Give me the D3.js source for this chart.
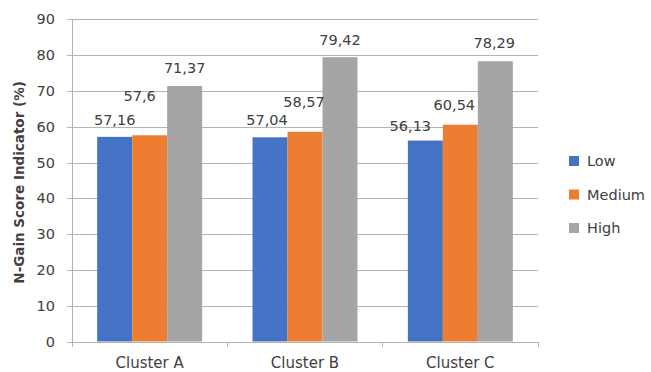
<!DOCTYPE html>
<meta charset='utf-8'>
<style>
body { margin: 0; background: #fff; }
text { font-family: 'DejaVu Sans', sans-serif; fill: #404040; }
.grid line { stroke: #b4b4b4; shape-rendering: crispEdges; }
.grid path { display: none; }
</style>
<svg width='651' height='372'></svg>
<script src='https://cdnjs.cloudflare.com/ajax/libs/d3/7.8.5/d3.min.js'></script>
<script>

// chart data
var clusters = ['Cluster A', 'Cluster B', 'Cluster C'],
    seriesNames = ['Low', 'Medium', 'High'],
    low = [57.16, 57.04, 56.13],
    medium = [57.6, 58.57, 60.54],
    high = [71.37, 79.42, 78.29],
    yTicks = [0, 10, 20, 30, 40, 50, 60, 70, 80, 90];

var colors = ['#4472C4', '#ED7D31', '#A5A5A5'];

// labels were dragged around by hand in the original, nudge them the same way
var labelNudge = [
    [[0, 0], [-10, -22], [0, -1]],
    [[-3, 0], [-1, -13], [0, 0]],
    [[-15, 2], [-6, -3], [-1, -1]]
];

var svg = d3.select('svg'),
    plotLeft = 72, plotRight = 538, plotTop = 19.3, plotBottom = 341.5;

var x0 = d3.scaleBand().domain(clusters).range([plotLeft, plotRight]).padding(0),
    x1 = d3.scaleBand().domain(seriesNames).range([0, x0.bandwidth()])
        .paddingInner(0).paddingOuter(0.72),
    y = d3.scaleLinear().domain([0, 90]).range([plotBottom, plotTop]);

// gridlines + y tick labels
var yAxis = svg.append('g')
    .attr('class', 'grid')
    .attr('transform', `translate(${plotLeft},0)`)
    .call(d3.axisLeft(y).tickValues(yTicks).tickSize(-(plotRight - plotLeft)).tickPadding(17));
yAxis.selectAll('line').attr('x1', -5);
yAxis.selectAll('text').style('font-size', '14.5px').attr('fill', '#404040');

// vertical axis line
svg.append('line')
    .attr('x1', plotLeft).attr('x2', plotLeft).attr('y1', plotTop).attr('y2', plotBottom)
    .attr('stroke', '#b4b4b4').attr('shape-rendering', 'crispEdges');

// x axis category boundaries
var bounds = clusters.map(c => x0(c)).concat([plotRight]);
svg.selectAll('.xtick').data(bounds).enter().append('line')
    .attr('class', 'xtick')
    .attr('x1', d => d).attr('x2', d => d)
    .attr('y1', plotBottom).attr('y2', plotBottom + 5)
    .attr('stroke', '#b4b4b4').attr('shape-rendering', 'crispEdges');

var xAxis = svg.append('g')
    .attr('transform', `translate(0,${plotBottom})`)
    .call(d3.axisBottom(x0).tickSize(0).tickPadding(16));
xAxis.select('.domain').remove();
xAxis.selectAll('text').style('font-size', '15px').attr('fill', '#404040');

// bars
var rows = clusters.map((c, i) => ({
    cluster: c,
    values: [low[i], medium[i], high[i]]
}));

var groups = svg.selectAll('.cluster').data(rows).enter().append('g')
    .attr('class', 'cluster')
    .attr('transform', d => `translate(${x0(d.cluster)},0)`);

groups.selectAll('rect').data(d => d.values).enter().append('rect')
    .attr('x', (d, j) => x1(seriesNames[j]))
    .attr('width', x1.bandwidth())
    .attr('y', d => y(d))
    .attr('height', d => plotBottom - y(d))
    .attr('fill', (d, j) => colors[j]);

groups.each(function(row, i) {
    d3.select(this).selectAll('.val').data(row.values).enter().append('text')
        .attr('class', 'val')
        .attr('text-anchor', 'middle')
        .attr('dominant-baseline', 'central')
        .attr('x', (d, j) => x1(seriesNames[j]) + x1.bandwidth() / 2 + labelNudge[i][j][0])
        .attr('y', (d, j) => y(d) - 17 + labelNudge[i][j][1])
        .style('font-size', '14.5px')
        .text(d => String(d).replace('.', ','));
});

// y title
svg.append('text')
    .attr('transform', `translate(19,${(plotTop + plotBottom) / 2 + 2}) rotate(-90)`)
    .attr('text-anchor', 'middle')
    .attr('dominant-baseline', 'central')
    .style('font-size', '13.5px')
    .style('font-weight', 'bold')
    .attr('fill', '#262626')
    .text('N-Gain Score Indicator (%)');

// legend
var legend = svg.selectAll('.legend').data(seriesNames).enter().append('g')
    .attr('class', 'legend')
    .attr('transform', (d, i) => `translate(569,${161 + i * 33.5})`);
legend.append('rect')
    .attr('y', -5).attr('width', 10).attr('height', 10)
    .attr('fill', (d, i) => colors[i]);
legend.append('text')
    .attr('x', 18).attr('dominant-baseline', 'central')
    .style('font-size', '14.5px')
    .text(d => d);
</script>
